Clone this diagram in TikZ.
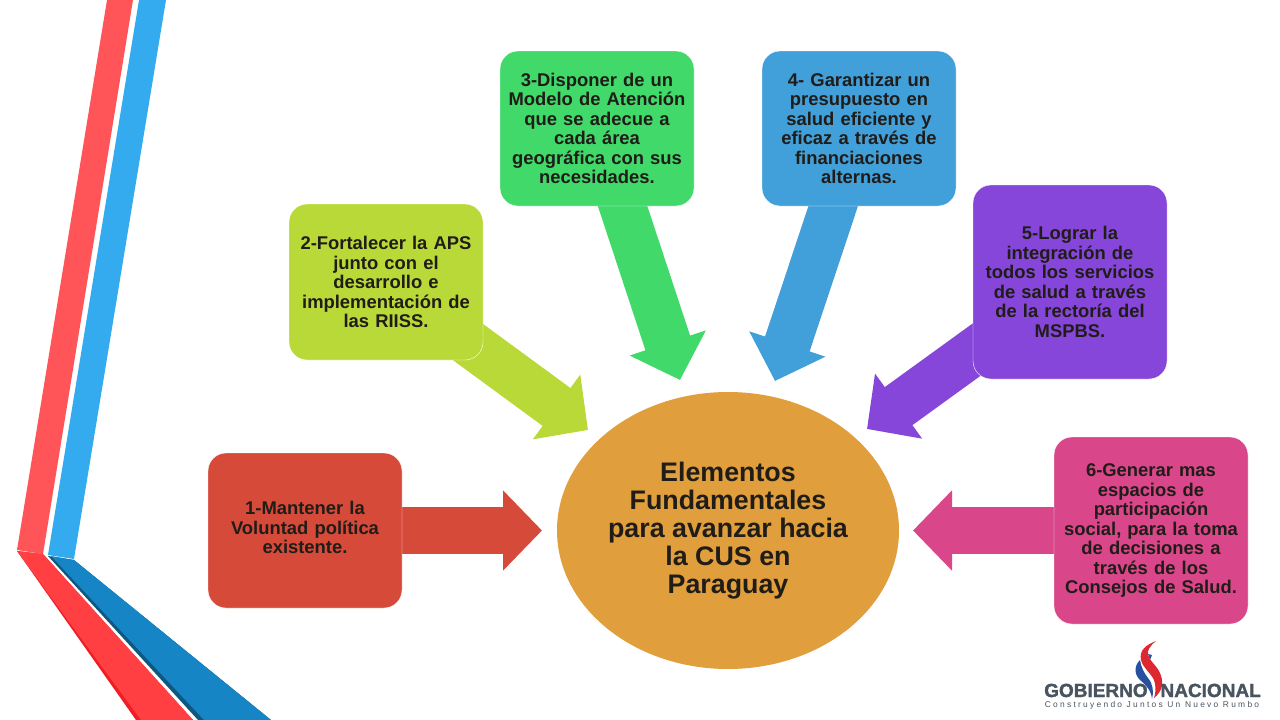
\documentclass[tikz,border=0pt]{standalone}
\usepackage{fontspec}
\setmainfont{Liberation Sans}
\newfontfamily\itemfont[WordSpace=0.5]{Liberation Sans}
\usetikzlibrary{arrows.meta,backgrounds,shapes.geometric}
\definecolor{redfill}{RGB}{214,74,58}
\definecolor{limefill}{RGB}{185,217,56}
\definecolor{greenfill}{RGB}{64,217,106}
\definecolor{bluefill}{RGB}{65,159,217}
\definecolor{purplefill}{RGB}{133,70,217}
\definecolor{pinkfill}{RGB}{217,70,138}
\definecolor{orangefill}{RGB}{224,158,60}
\definecolor{textdark}{RGB}{32,28,24}
\definecolor{logogray}{RGB}{72,84,96}
\definecolor{flagred}{RGB}{222,40,48}
\definecolor{flagblue}{RGB}{40,80,160}
\tikzset{
  font=\bfseries,
  item/.style={
    draw=white,
    line width=0.4pt,
    rounded corners=18pt,
    align=center,
    text=textdark,
    text width=190pt,
    minimum width=194pt,
    inner sep=0pt,
    font=\itemfont\fontsize{18.4}{19.5}\selectfont\bfseries
  },
  hub/.style={
    ellipse,
    fill=orangefill,
    align=center,
    text=textdark,
    minimum width=342pt,
    minimum height=277pt,
    inner sep=0pt,
    font=\fontsize{26.8}{28}\selectfont\bfseries
  },
  fatarrow/.style={
    line width=47pt,
    -{Triangle[length=39pt,width=78pt]}
  },
  ribbon/.style={draw=none},
  logotext/.style={
    text=logogray,
    inner sep=0pt,
    font=\fontsize{19}{19}\selectfont\bfseries
  }
}

\begin{document}
\begin{tikzpicture}[x=1pt,y=-1pt]

  \useasboundingbox (0,0) rectangle (1280,720);

  \fill[ribbon,fill={rgb,255:red,255;green,85;blue,88}] (107,0) -- (133,0) -- (43,554) -- (17,550) -- cycle;
  \fill[ribbon,fill={rgb,255:red,51;green,171;blue,238}] (139,0) -- (166,0) -- (74,559) -- (48,555) -- cycle;
  \fill[ribbon,fill={rgb,255:red,240;green,30;blue,36}] (17,551) -- (43,554) -- (193,720) -- (136,720) -- cycle;
  \fill[ribbon,fill={rgb,255:red,255;green,63;blue,66}] (17,551) -- (43,554) -- (193,720) -- (141,720) -- cycle;
  \fill[ribbon,fill={rgb,255:red,14;green,88;blue,128}] (48,556) -- (74,560) -- (271,720) -- (198,720) -- cycle;
  \fill[ribbon,fill={rgb,255:red,21;green,133;blue,197}] (51,556) -- (74,560) -- (271,720) -- (204,720) -- cycle;

  \node[item,fill=redfill,minimum height=155pt] at (305,530.5) (item1) {
    1-Mantener la\\Voluntad política\\existente.\par\vspace{6pt}
  };

  \node[item,fill=limefill,minimum height=156pt] at (386,282) (item2) {
    2-Fortalecer la APS\\junto con el\\desarrollo e\\implementación de\\las RIISS.
  };

  \node[item,fill=greenfill,minimum height=155pt] at (597,128.5) (item3) {
    3-Disponer de un\\Modelo de Atención\\que se adecue a\\cada área\\geográfica con sus\\necesidades.
  };

  \node[item,fill=bluefill,minimum height=155pt] at (859,128.5) (item4) {
    4- Garantizar un\\presupuesto en\\salud eficiente y\\eficaz a través de\\financiaciones\\alternas.
  };

  \node[item,fill=purplefill,minimum height=194pt] at (1070,282) (item5) {
    5-Lograr la\\integración de\\todos los servicios\\de salud a través\\de la rectoría del\\MSPBS.
  };

  \node[item,fill=pinkfill,minimum height=187pt] at (1151,530.5) (item6) {
    6-Generar mas\\espacios de\\participación\\social, para la toma\\de decisiones a\\través de los\\Consejos de Salud.
  };

  \node[hub] at (728,530.5) (hub) {
    Elementos\\Fundamentales\\para avanzar hacia\\la CUS en\\Paraguay
  };

  \coordinate (tip1) at (542,530.5);
  \coordinate (tip2) at (588,430);
  \coordinate (tip3) at (680,380);
  \coordinate (tip4) at (775,381);
  \coordinate (tip5) at (867,429);
  \coordinate (tip6) at (913,530.5);

  \begin{scope}[on background layer]
    \draw[fatarrow,redfill] (item1.center) -- (tip1);
    \draw[fatarrow,limefill] (item2.center) -- (tip2);
    \draw[fatarrow,greenfill] (item3.center) -- (tip3);
    \draw[fatarrow,bluefill] (item4.center) -- (tip4);
    \draw[fatarrow,purplefill] (item5.center) -- (tip5);
    \draw[fatarrow,pinkfill] (item6.center) -- (tip6);
  \end{scope}

  \fill[ribbon,fill=flagblue] (1140,660) .. controls (1134,666) and (1134,674) .. (1140,680) .. controls (1146,685) and (1151,690) .. (1152,699) .. controls (1154,692) and (1153,684) .. (1148,678) .. controls (1144,673) and (1141,667) .. (1140,660) -- cycle;
  \fill[ribbon,fill=flagblue] (1148,654) -- (1152,655) -- (1150,660) -- cycle;
  \fill[ribbon,fill=flagred] (1156,641) .. controls (1146,645) and (1139,650) .. (1141,660) .. controls (1143,668) and (1150,672) .. (1154,680) .. controls (1156,686) and (1156,692) .. (1154,698) .. controls (1162,692) and (1165,682) .. (1159,671) .. controls (1155,664) and (1149,660) .. (1148,655) .. controls (1147,650) and (1150,646) .. (1156,641) -- cycle;

  \node[logotext,anchor=base west] at (1044,697) (logo1) {\addfontfeatures{FakeBold=1.6}GOBIERNO};
  \node[logotext,anchor=base east] at (1261,697) (logo2) {\addfontfeatures{FakeBold=1.6}NACIONAL};
  \node[logotext,anchor=base,font=\fontsize{8.4}{8}\selectfont] at (1152,707) (logo3) {\addfontfeatures{LetterSpace=27}Construyendo Juntos Un Nuevo Rumbo};

\end{tikzpicture}
\end{document}
